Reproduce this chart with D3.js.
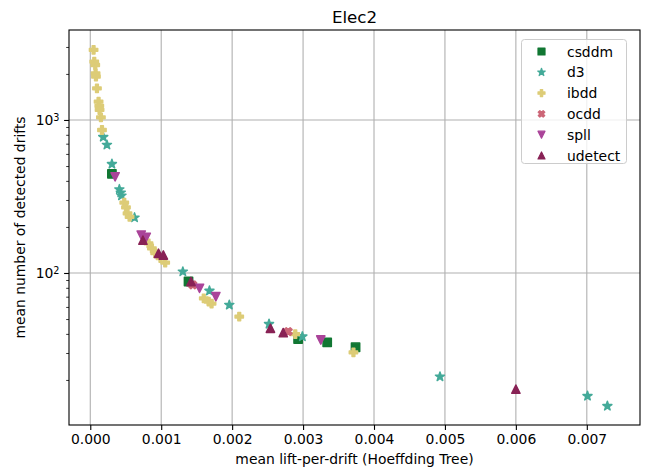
<!DOCTYPE html>
<html><head><meta charset="utf-8">
<script src="https://cdn.jsdelivr.net/npm/d3@7"></script>
<style>
body{margin:0;background:#fff;}
text{font-family:"DejaVu Sans",sans-serif;fill:#000;}
</style></head>
<body><svg id="chart" width="646" height="469"></svg>
<script>
const categories = ["csddm","d3","ibdd","ocdd","spll","udetect"];
const colors = ["#117733","#44AA99","#DDCC77","#CC6677","#AA4499","#882255"];
const markers = ["square","star","plus","x","tridown","triup"];

const csddmX = [0.000305, 0.001385, 0.00293, 0.00334, 0.00374];
const csddmY = [444, 88, 37, 35.2, 32.7];

const d3X = [0.000183, 0.000235, 0.000305, 0.00041, 0.00043, 0.00044, 0.000624, 0.001305, 0.00168, 0.00196, 0.00252, 0.00299, 0.00493, 0.00701, 0.00729];
const d3Y = [774, 687, 515, 352, 335, 320, 230, 102, 76.5, 61.8, 46.4, 38.4, 21.0, 15.7, 13.5];

const ibddX = [0.0000465, 0.000056, 0.00007, 0.000075, 0.00008, 0.000094, 0.000117, 0.000127, 0.000131, 0.00015, 0.000165, 0.000479, 0.000503, 0.000525, 0.000554, 0.000821, 0.000869, 0.000915, 0.00099, 0.001056, 0.0016, 0.00167, 0.00171, 0.0021, 0.00289, 0.00371];
const ibddY = [2868, 2405, 2287, 2019, 1919, 1611, 1317, 1235, 1162, 1041, 860, 288, 268, 245, 233, 156, 145, 134.6, 125, 116.7, 68.3, 65, 63, 51.8, 39.9, 30.3];

const ocddX = [0.001446, 0.00279];
const ocddY = [83.6, 41.4];

const spllX = [0.00035, 0.000718, 0.000789, 0.00154, 0.00177, 0.00325];
const spllY = [425, 177, 171, 79.4, 70, 36.5];

const udetectX = [0.000742, 0.000962, 0.00103, 0.00142, 0.00254, 0.00272, 0.006];
const udetectY = [164, 134.6, 131, 88, 43.5, 40.8, 17.4];

const xTicks = [0, 0.001, 0.002, 0.003, 0.004, 0.005, 0.006, 0.007];
const yMajorTicks = [100, 1000];
const yMajorLabels = ["2", "3"];
const yMinorTicks = [20,30,40,50,60,70,80,90,200,300,400,500,600,700,800,900,2000,3000];

const seriesX = [csddmX, d3X, ibddX, ocddX, spllX, udetectX];
const seriesY = [csddmY, d3Y, ibddY, ocddY, spllY, udetectY];

const L = 69, R = 640, T = 30, B = 425;
const svg = d3.select("#chart");
const x = d3.scaleLinear().domain([-0.0003, 0.00775]).range([L, R]);
const y = d3.scaleLog().domain([Math.pow(10, 1.00654), Math.pow(10, 3.588)]).range([B, T]);

// grid
const g = svg.append("g");
g.selectAll(".gx").data(xTicks).enter().append("line")
  .attr("x1", d => x(d)).attr("x2", d => x(d)).attr("y1", T).attr("y2", B)
  .attr("stroke", "#b0b0b0").attr("stroke-width", 1.1);
g.selectAll(".gy").data(yMajorTicks).enter().append("line")
  .attr("x1", L).attr("x2", R).attr("y1", d => y(d)).attr("y2", d => y(d))
  .attr("stroke", "#b0b0b0").attr("stroke-width", 1.1);

// marker paths
function markerPath(type, w) {
  const h = w / 2;
  if (type === "square") return `M${-h},${-h}H${h}V${h}H${-h}Z`;
  if (type === "triup") return `M0,${-h}L${h},${h}L${-h},${h}Z`;
  if (type === "tridown") return `M0,${h}L${h},${-h}L${-h},${-h}Z`;
  if (type === "star") {
    let p = "";
    for (let i = 0; i < 10; i++) {
      const r = i % 2 === 0 ? h : h * 0.381966;
      const a = -Math.PI / 2 + i * Math.PI / 5;
      p += (i === 0 ? "M" : "L") + (r * Math.cos(a)).toFixed(2) + "," + (r * Math.sin(a)).toFixed(2);
    }
    return p + "Z";
  }
  if (type === "plus" || type === "x") {
    const a = w / 6;
    const pts = [[-a,-h],[a,-h],[a,-a],[h,-a],[h,a],[a,a],[a,h],[-a,h],[-a,a],[-h,a],[-h,-a],[-a,-a]];
    let rot = type === "x" ? Math.PI / 4 : 0;
    return pts.map((pt, i) => {
      const px = pt[0] * Math.cos(rot) - pt[1] * Math.sin(rot);
      const py = pt[0] * Math.sin(rot) + pt[1] * Math.cos(rot);
      return (i === 0 ? "M" : "L") + px.toFixed(2) + "," + py.toFixed(2);
    }).join("") + "Z";
  }
}

// points
const pg = svg.append("g");
categories.forEach((c, i) => {
  const data = seriesX[i].map((v, j) => [v, seriesY[i][j]]);
  const size = markers[i] === "star" ? 9.5 : 8.3;
  pg.append("g").selectAll("path").data(data).enter().append("path")
    .attr("transform", d => `translate(${x(d[0])},${y(d[1])})`)
    .attr("d", markerPath(markers[i], size))
    .attr("fill", colors[i]).attr("stroke", colors[i]).attr("stroke-width", 1.5)
    .attr("stroke-linejoin", "round");
});

// spines
svg.append("rect").attr("x", L).attr("y", T).attr("width", R - L).attr("height", B - T)
  .attr("fill", "none").attr("stroke", "#000").attr("stroke-width", 1.1);

// x axis
const xa = svg.append("g").attr("transform", `translate(0,${B})`)
  .call(d3.axisBottom(x).tickValues(xTicks).tickFormat(d3.format(".3f")).tickSize(4.9).tickPadding(4.4));
xa.select(".domain").remove();
xa.selectAll("line").attr("stroke-width", 1.1);
xa.selectAll("text").attr("font-size", "13.9px").attr("font-family", "DejaVu Sans");

// y axis minor
const yam = svg.append("g").attr("transform", `translate(${L},0)`)
  .call(d3.axisLeft(y).tickValues(yMinorTicks).tickFormat("").tickSize(2.8));
yam.select(".domain").remove();
yam.selectAll("line").attr("stroke-width", 0.8);
// y axis major
const ya = svg.append("g").attr("transform", `translate(${L},0)`)
  .call(d3.axisLeft(y).tickValues(yMajorTicks).tickFormat("").tickSize(4.9));
ya.select(".domain").remove();
ya.selectAll("line").attr("stroke-width", 1.1);
ya.selectAll(".tick").each(function(d, i) {
  const t = d3.select(this).append("text").attr("x", -9.5).attr("dy", "0.32em")
    .attr("text-anchor", "end").attr("font-size", "13.9px");
  t.append("tspan").text("10");
  t.append("tspan").attr("dy", "-0.45em").attr("font-size", "9.7px").text(yMajorLabels[i]);
});

// labels
svg.append("text").attr("x", (L + R) / 2).attr("y", 23).attr("text-anchor", "middle")
  .attr("font-size", "16.7px").text("Elec2");
svg.append("text").attr("x", (L + R) / 2).attr("y", 464).attr("text-anchor", "middle")
  .attr("font-size", "13.9px").text("mean lift-per-drift (Hoeffding Tree)");
svg.append("text").attr("transform", `translate(25,${(T + B) / 2}) rotate(-90)`)
  .attr("text-anchor", "middle").attr("font-size", "13.9px").text("mean number of detected drifts");

// legend
const lg = svg.append("g");
lg.append("rect").attr("x", 521.5).attr("y", 39.5).attr("width", 105).attr("height", 124)
  .attr("rx", 3).attr("fill", "#fff").attr("fill-opacity", 0.8).attr("stroke", "#cccccc").attr("stroke-width", 1);
categories.forEach((c, i) => {
  const yy = 51.5 + i * 20.8;
  const size = markers[i] === "star" ? 8 : 7;
  lg.append("path").attr("transform", `translate(541.5,${yy})`)
    .attr("d", markerPath(markers[i], size))
    .attr("fill", colors[i]).attr("stroke", colors[i]).attr("stroke-width", 1.2)
    .attr("stroke-linejoin", "round");
  lg.append("text").attr("x", 567).attr("y", yy).attr("dy", "0.36em")
    .attr("font-size", "13.9px").text(c);
});
</script></body></html>
